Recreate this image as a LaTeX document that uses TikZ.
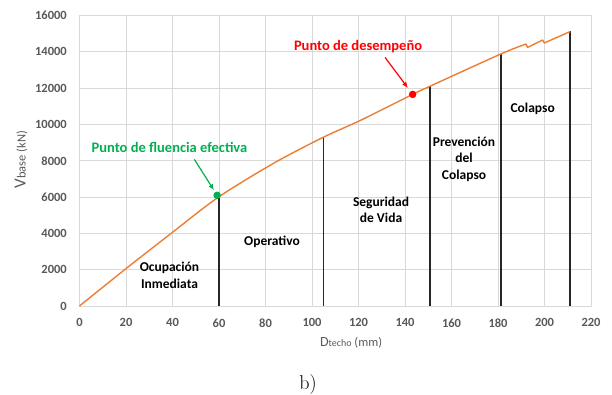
\documentclass[tikz,border=0pt]{standalone}
\usepackage{fontspec}
\newfontfamily\calibri{Carlito}
\usepackage{tikz}
\usetikzlibrary{arrows.meta}

\definecolor{curveorange}{HTML}{ED7D31}
\definecolor{yieldgreen}{HTML}{00B050}
\definecolor{perfred}{HTML}{FF0000}
\definecolor{gridgray}{HTML}{D9D9D9}
\definecolor{textgray}{HTML}{595959}

\begin{document}
\begin{tikzpicture}[x=2.325pt,y=18.15pt,
	gridln/.style={draw=gridgray,line width=0.9pt},
	limitln/.style={draw=black!85,line width=1.7pt},
	capacity/.style={draw=curveorange,line width=1.4pt,line join=round},
	ticklbl/.style={font=\calibri\bfseries\fontsize{12.5}{14}\selectfont,text=textgray,inner sep=0pt},
	axtitle/.style={font=\calibri\fontsize{12.5}{14}\selectfont,text=textgray,inner sep=0pt},
	zone/.style={font=\calibri\bfseries\fontsize{13.5}{16.5}\selectfont,align=center,inner sep=0pt},
	callout/.style={font=\calibri\bfseries\fontsize{14.5}{16}\selectfont,inner sep=0pt},
	pointdot/.style={circle,inner sep=0pt,minimum size=7.5pt},
	pointer/.style={line width=1.2pt,-{Latex[length=6pt,width=5pt]}}]
\useasboundingbox (-79.5pt,-88pt) rectangle (532.5pt,306pt);

%grid
\foreach \x in {20,40,...,200}
	\draw[gridln] (\x,0) -- (\x,16);
\foreach \y in {2,4,...,14}
	\draw[gridln] (0,\y) -- (220,\y);
\draw[gridln] (0,0) rectangle (220,16);

%tick labels
\foreach \x in {0,20,...,220}
	\node[ticklbl,anchor=north] (x\x) at ([yshift=-12.5pt]\x,0) {\x};
\foreach \y in {0,...,8}{
	\pgfmathsetmacro{\val}{int(2000*\y)}
	\node[ticklbl,anchor=east] (y\y) at ([xshift=-12.5pt]0,2*\y) {\val};
}

%limits
\foreach \x/\y [count=\i] in {60/6.02,104.9/9.30,150.6/12.1,181.2/13.885,211.1/15.126}{
	\coordinate (top\i) at (\x,\y);
	\coordinate (bot\i) at (\x,0);
	\draw[limitln] (top\i) -- (bot\i);
}

%capacity curve
\draw[capacity] plot[smooth,tension=0.5] coordinates {(0,0) (20,2.06) (40,4.06) (60,6.02) (84,7.9) (104.9,9.30) (120.7,10.22) (143.3,11.66) (150.6,12.1) (181.2,13.885) (192,14.434)}
	-- (192.7,14.247) -- (199.2,14.654) -- (199.9,14.489) -- (211.1,15.126);

%points
\node[pointdot,fill=yieldgreen] (yieldpt) at (59.2,6.1) {};
\node[pointdot,fill=perfred] (perfpt) at (143.3,11.66) {};
\node[callout,text=yieldgreen] (yieldlbl) at (38.7,8.72) {Punto de fluencia efectiva};
\node[callout,text=perfred] (perflbl) at (119.8,14.29) {Punto de desempeño};
\coordinate (yieldtail) at (49.4,8.08);
\coordinate (perftail) at (131.4,13.70);
\draw[pointer,yieldgreen,shorten >=2pt] (yieldtail) -- (yieldpt);
\draw[pointer,perfred,shorten >=4pt] (perftail) -- (perfpt);

%zones
\node[zone] (ocupacion) at (38.7,1.68) {Ocupación\\Inmediata};
\node[zone] (operativo) at (82.8,3.54) {Operativo};
\node[zone] (seguridad) at (129.7,5.29) {Seguridad\\de Vida};
\node[zone] (prevencion) at (165.4,8.10) {Prevención\\del\\Colapso};
\node[zone] (colapso) at (194.9,10.84) {Colapso};

%axis titles
\node[axtitle,rotate=90] (ytitle) at (-58.5pt,146.5pt) {{\fontsize{17}{17}\selectfont V}base (kN)};
\node[axtitle] (xtitle) at (116.8,-2.04) {{\fontsize{14}{14}\selectfont D}{\fontsize{10}{10}\selectfont techo} (mm)};
\node[font=\fontsize{20}{20}\selectfont,inner sep=0pt] (caption) at (98.3,-4.35) {b)};

\end{tikzpicture}
\end{document}
